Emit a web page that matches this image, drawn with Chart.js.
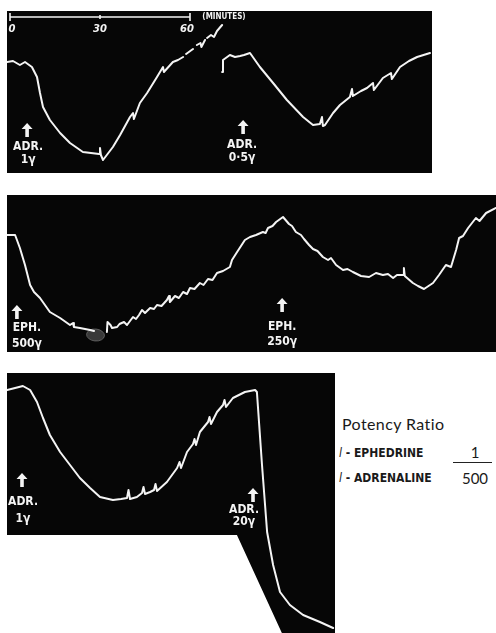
<!DOCTYPE html>
<html>
<head>
<meta charset="utf-8">
<script src="https://cdn.jsdelivr.net/npm/chart.js@4"></script>
<style>
  html, body { margin: 0; padding: 0; background: #fff; }
  body { width: 496px; height: 633px; position: relative; overflow: hidden; }
  canvas { position: absolute; }
  .txt { position: absolute; color: #1a1a1a; white-space: nowrap; }
  .ratio { font-family: Lato, "Open Sans", sans-serif; font-size: 16px; letter-spacing: 0.4px; }
  .drug { font-family: "Liberation Sans Narrow", "DejaVu Sans Condensed", sans-serif; font-weight: bold; font-size: 12px; }
  .drug i { font-weight: normal; }
  .num { font-family: Lato, "Open Sans", sans-serif; font-size: 15px; text-align: center; width: 40px; }
</style>
</head>
<body>
<canvas id="panel1" width="425" height="162" style="left:7px;top:11px"></canvas>
<canvas id="panel2" width="489" height="157" style="left:7px;top:195px"></canvas>
<canvas id="panel3" width="328" height="260" style="left:7px;top:373px"></canvas>

<div class="txt ratio" style="left:342px;top:414px">Potency Ratio</div>
<div class="txt drug" style="left:339px;top:446px"><i>l</i> - EPHEDRINE</div>
<div class="txt drug" style="left:339px;top:471px"><i>l</i> - ADRENALINE</div>
<div class="txt num" style="left:455px;top:443px">1</div>
<div style="position:absolute;left:453px;top:462px;width:39px;height:1px;background:#222"></div>
<div class="txt num" style="left:455px;top:469px">500</div>

<script>
// time in minutes, trace height in arbitrary units above the panel floor
const timeTicks = [0, 30, 60];

// panel 1 - adrenaline 1γ
const adr1Trace = [[-1,111],[1,112],[3.3,108],[5,111],[7.3,106],[9,96],[10,80],[11,66],[13.3,53],[16.7,40],
  [20,30],[24.3,21],[27,20],[29.7,19],[30,25],[30.3,18],[31,13],[34.3,26],[36.7,38],[40,56],[41,60],[41.3,54],
  [43.3,70],[45.7,80],[49,96],[51,106],[51.3,101],[54.3,111],[56,113],[57.7,116],[58,null],[58.7,119],[61,124],
  [61.5,null],[62.3,128],[63.5,130],[63.8,126],[65,133],[65.3,null],[65.7,135],[67,138],[68,136],[69,142],[70.7,148]];

// panel 1 - adrenaline 0.5γ
const adr05Trace = [[70.7,101],[71,113],[73.3,118],[75,116],[76.7,117],[78,118],[80,120],[83.3,106],[87.7,90],
  [92.3,73],[97.7,56],[101,48],[103.3,49],[104,56],[104.3,47],[105,48],[107.7,60],[110,68],[113.3,76],[114,84],
  [114.3,77],[117,82],[119,85],[121,90],[121.3,83],[124.3,95],[127,100],[127.3,94],[130,106],[133,112],
  [135.7,116],[140,120]];

// panel 2 - ephedrine 500γ and 250γ
const ephTrace = [[-1,117],[1.7,117],[3.3,104],[5,87],[6.7,67],[8,60],[10,54],[13.3,40],[16.7,34],[20,27],
  [21,29],[21.3,25],[23.3,24],[26.7,22],[28,21],[28.3,null],[32.3,20],[32.5,30],[33.5,27],[34,24],[35.7,25],
  [36.5,28],[38,30],[39,27],[41,35],[42,33],[43,37],[44,42],[45,39],[46.7,44],[48,43],[49,47],[50.5,46],
  [52.3,52],[53,56],[53.3,50],[55,56],[56.3,54],[57.7,60],[59,58],[60,64],[61.5,63],[63.3,69],[64.5,67],
  [66,73],[67.5,72],[69,79],[71,81],[73.3,85],[74,92],[75.7,100],[78.3,112],[80,115],[82,117],[84.3,120],
  [85.2,119],[86,124],[87.5,126],[88.7,130],[91,135],[93,128],[94,126],[95.3,120],[97,117],[98,113],
  [99.7,107],[101,103],[102.5,101],[104.3,95],[106,92],[107,94],[108.7,87],[111,82],[112.5,83],[114.3,80],
  [117,76],[119.7,75],[122,79],[124.3,77],[126,78],[127.7,74],[129,77],[131,77],[131.3,84],[131.6,76],
  [134.3,69],[136,66],[138,63],[141,69],[143,77],[145.3,87],[147,85],[148.7,102],[149.7,114],[151,116],
  [152.7,124],[155.3,134],[156.5,131],[158.7,139],[162,144]];

// panel 3 - adrenaline 1γ then 20γ
const adr20Trace = [[-1,243],[1.7,245],[4.3,247],[6.7,243],[9,231],[11,215],[13.3,198],[16.7,181],[20,168],
  [23.3,155],[26.7,145],[30,136],[34.3,133],[37,134],[39,135],[39.5,143],[40,134],[42.3,136],[44,140],
  [44.5,146],[45,139],[46.7,141],[48,143],[48.5,149],[49,142],[52.3,151],[55.7,165],[56.5,171],[57,165],
  [59,181],[61,189],[61.5,194],[62,188],[63.3,201],[66,211],[66.5,216],[67,209],[69,221],[71,228],[71.5,233],
  [72,226],[74.3,235],[78.3,241],[80,242],[81.7,243],[82.3,241],[84,168],[85.7,101],[87.7,68],[90,41],
  [93.3,28],[97.7,18],[103.3,11],[107.7,5]];

// injection marks: time, label lines
const marks1 = [[5.7, 'ADR.', '1γ'], [77.7, 'ADR.', '0·5γ']];
const marks2 = [[2.3, 'EPH.', '500γ'], [90.7, 'EPH.', '250γ']];
const marks3 = [[4, 'ADR.', '1γ'], [81, 'ADR.', '20γ']];

const toPoints = arr => arr.map(p => ({ x: p[0], y: p[1] }));

const kymoPlugin = {
  id: 'kymo',
  beforeDraw(chart, args, opts) {
    const ctx = chart.ctx, w = chart.width, h = chart.height;
    ctx.save();
    ctx.fillStyle = '#060606';
    ctx.beginPath();
    if (opts.cut) {
      // lower-left corner of the third strip is cut away
      ctx.moveTo(0, 0); ctx.lineTo(w, 0); ctx.lineTo(w, h);
      ctx.lineTo(opts.cut[1] * w, h); ctx.lineTo(opts.cut[0] * w, opts.cut[2] * h);
      ctx.lineTo(0, opts.cut[2] * h);
    } else {
      ctx.rect(0, 0, w, h);
    }
    ctx.closePath();
    ctx.fill();
    if (opts.blob) {
      const bx = chart.scales.x.getPixelForValue(opts.blob[0]);
      const by = chart.scales.y.getPixelForValue(opts.blob[1]);
      ctx.fillStyle = 'rgba(70,70,70,0.8)';
      ctx.strokeStyle = 'rgba(130,130,130,0.6)';
      ctx.lineWidth = 1;
      ctx.beginPath();
      ctx.ellipse(bx, by, 9, 6, 0.1, 0, Math.PI * 2);
      ctx.fill();
      ctx.stroke();
    }
    ctx.restore();
  },
  afterDatasetsDraw(chart, args, opts) {
    const ctx = chart.ctx, xs = chart.scales.x, ys = chart.scales.y;
    ctx.save();
    ctx.fillStyle = '#f4f4f4';
    ctx.strokeStyle = '#f4f4f4';
    ctx.textAlign = 'center';
    ctx.textBaseline = 'middle';
    (opts.marks || []).forEach((m, i) => {
      const lay = opts.layout[i];
      const x = xs.getPixelForValue(m[0]);
      const top = ys.getPixelForValue(lay[0]);
      // arrow
      ctx.beginPath();
      ctx.moveTo(x, top);
      ctx.lineTo(x + 5.5, top + 6);
      ctx.lineTo(x + 1.8, top + 6);
      ctx.lineTo(x + 1.8, top + 14);
      ctx.lineTo(x - 1.8, top + 14);
      ctx.lineTo(x - 1.8, top + 6);
      ctx.lineTo(x - 5.5, top + 6);
      ctx.closePath();
      ctx.fill();
      ctx.font = 'bold 12px "DejaVu Sans Condensed", sans-serif';
      const tx = x + lay[3];
      ctx.fillText(m[1], tx, ys.getPixelForValue(lay[1]));
      ctx.fillText(m[2], tx, ys.getPixelForValue(lay[2]));
    });
    if (opts.timeBar) {
      const yb = ys.getPixelForValue(opts.timeBar);
      const x0 = xs.getPixelForValue(timeTicks[0]);
      const x1 = xs.getPixelForValue(timeTicks[timeTicks.length - 1]);
      ctx.lineWidth = 1.6;
      ctx.beginPath();
      ctx.moveTo(x0, yb); ctx.lineTo(x1, yb);
      timeTicks.forEach((t, i) => {
        const x = xs.getPixelForValue(t);
        const half = (i === 0 || i === timeTicks.length - 1) ? 4 : 2;
        ctx.moveTo(x, yb - half); ctx.lineTo(x, yb + half);
      });
      ctx.stroke();
      ctx.font = 'italic bold 10px "DejaVu Sans", sans-serif';
      timeTicks.forEach((t, i) => {
        const off = i === 0 ? 2 : (i === timeTicks.length - 1 ? -3 : 0);
        ctx.fillText(String(t), xs.getPixelForValue(t) + off, yb + 12);
      });
      ctx.font = 'bold 8px "DejaVu Sans Condensed", sans-serif';
      ctx.fillText('(MINUTES)', x1 + 34, yb);
    }
    ctx.restore();
  }
};

function makePanel(id, traces, xMax, yMax, kymo) {
  new Chart(document.getElementById(id), {
    type: 'line',
    data: {
      datasets: traces.map(t => ({
        data: toPoints(t),
        borderColor: '#f4f4f4',
        borderWidth: 2,
        pointRadius: 0,
        tension: 0,
        borderJoinStyle: 'round',
        borderCapStyle: 'round',
        spanGaps: false
      }))
    },
    options: {
      responsive: false,
      animation: false,
      layout: { padding: 0 },
      events: [],
      scales: {
        x: { type: 'linear', min: -1, max: xMax, display: false },
        y: { type: 'linear', min: 0, max: yMax, display: false }
      },
      plugins: { legend: { display: false }, tooltip: { enabled: false }, kymo: kymo }
    },
    plugins: [kymoPlugin]
  });
}

// layout per mark: arrow tip height, label line 1 height, label line 2 height, label x shift (px)
makePanel('panel1', [adr1Trace, adr05Trace], 140.67, 162,
  { marks: marks1, layout: [[50, 26, 13, 1], [53, 28, 15, -1]], timeBar: 156 });
makePanel('panel2', [ephTrace], 162, 157,
  { marks: marks2, layout: [[47, 24, 8, 10], [54, 25, 10, 0]], blob: [28.5, 17] });
makePanel('panel3', [adr20Trace], 108.33, 260,
  { marks: marks3, layout: [[160, 131, 114, 1], [145, 123, 111, -9]], cut: [0.701, 0.838, 0.623] });
</script>
</body>
</html>
